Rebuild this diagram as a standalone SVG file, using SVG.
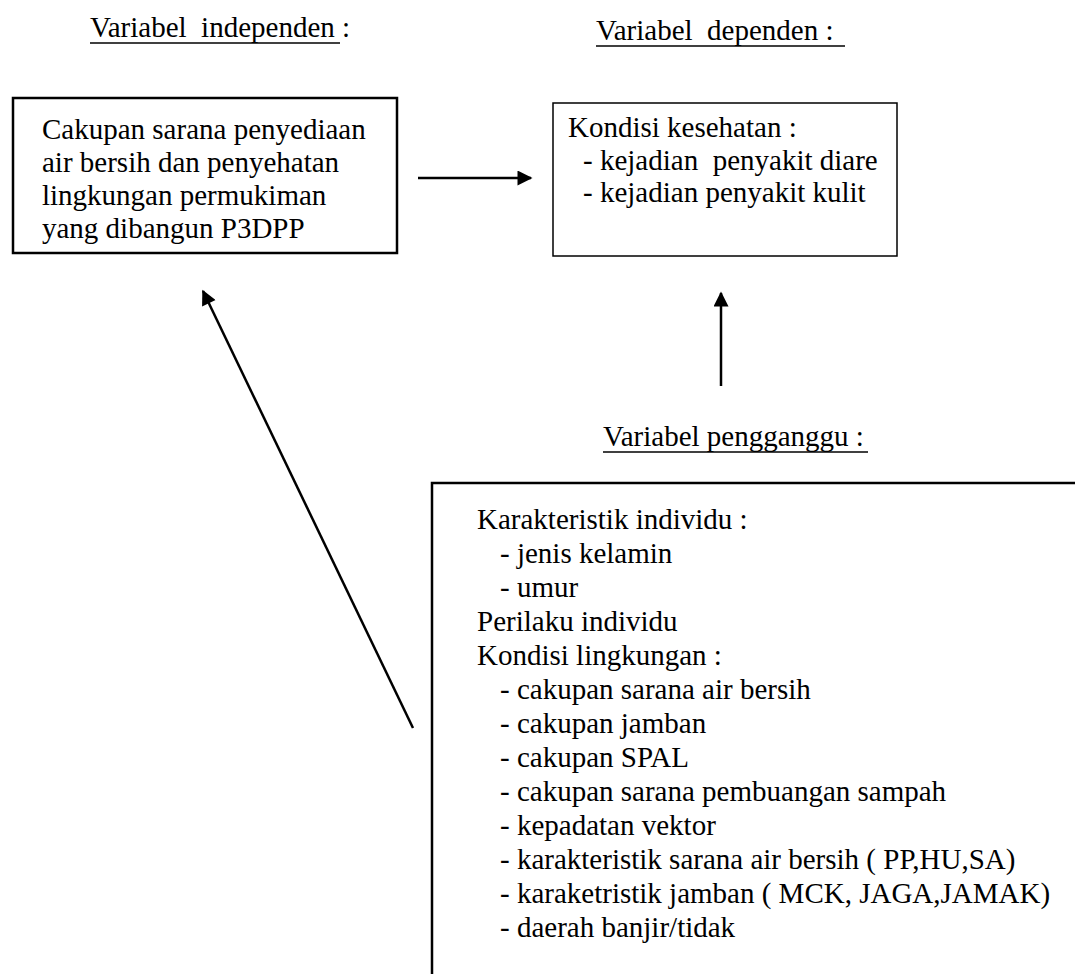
<svg xmlns="http://www.w3.org/2000/svg" width="1075" height="974" viewBox="0 0 1075 974" font-family="Liberation Serif, serif">
<style>
.t{font-family:"Liberation Serif","Times New Roman",serif;font-size:29px;fill:#000}
.box{fill:none;stroke:#000}
.ul{stroke:#000;stroke-width:1.5}
.conn{stroke:#000;stroke-width:2.5;fill:none}
</style>
<defs>
<marker id="ah" viewBox="0 0 10 10" refX="9" refY="5" markerWidth="7" markerHeight="6" markerUnits="strokeWidth" orient="auto">
<path d="M0,0 L10,5 L0,10 Z" fill="#000"/>
</marker>
</defs>
<rect width="1075" height="974" fill="#fff"/>
<g id="label-independen">
<text class="t" x="90" y="37" xml:space="preserve">Variabel  independen :</text>
<line class="ul" x1="90" y1="43" x2="340" y2="43"/>
</g>
<g id="label-dependen">
<text class="t" x="596" y="40" xml:space="preserve">Variabel  dependen :</text>
<line class="ul" x1="596" y1="46" x2="845" y2="46"/>
</g>
<g id="label-pengganggu">
<text class="t" x="603" y="446">Variabel pengganggu :</text>
<line class="ul" x1="603" y1="452" x2="868" y2="452"/>
</g>
<g id="independen">
<rect class="box" x="13" y="98" width="384" height="155" stroke-width="2.5"/>
<text class="t" x="42" y="139">Cakupan sarana penyediaan</text>
<text class="t" x="42" y="172">air bersih dan penyehatan</text>
<text class="t" x="42" y="205">lingkungan permukiman</text>
<text class="t" x="42" y="238">yang dibangun P3DPP</text>
</g>
<g id="dependen">
<rect class="box" x="553" y="103" width="344" height="153" stroke-width="1.5"/>
<text class="t" x="568" y="137">Kondisi kesehatan :</text>
<text class="t" x="583" y="170" xml:space="preserve">- kejadian  penyakit diare</text>
<text class="t" x="583" y="202">- kejadian penyakit kulit</text>
</g>
<g id="pengganggu">
<rect class="box" x="432" y="483" width="700" height="600" stroke-width="2.5"/>
<text class="t" x="477" y="529">Karakteristik individu :</text>
<text class="t" x="500" y="563">- jenis kelamin</text>
<text class="t" x="500" y="597">- umur</text>
<text class="t" x="477" y="631">Perilaku individu</text>
<text class="t" x="477" y="665">Kondisi lingkungan :</text>
<text class="t" x="500" y="699">- cakupan sarana air bersih</text>
<text class="t" x="500" y="733">- cakupan jamban</text>
<text class="t" x="500" y="767">- cakupan SPAL</text>
<text class="t" x="500" y="801">- cakupan sarana pembuangan sampah</text>
<text class="t" x="500" y="835">- kepadatan vektor</text>
<text class="t" x="500" y="869">- karakteristik sarana air bersih ( PP,HU,SA)</text>
<text class="t" x="500" y="903">- karaketristik jamban ( MCK, JAGA,JAMAK)</text>
<text class="t" x="500" y="937">- daerah banjir/tidak</text>
</g>
<g id="connectors">
<line class="conn" x1="418" y1="178" x2="531" y2="178" marker-end="url(#ah)"/>
<line class="conn" x1="721" y1="386" x2="721" y2="293" marker-end="url(#ah)"/>
<line class="conn" x1="413" y1="728" x2="203" y2="291" marker-end="url(#ah)"/>
</g>
</svg>
